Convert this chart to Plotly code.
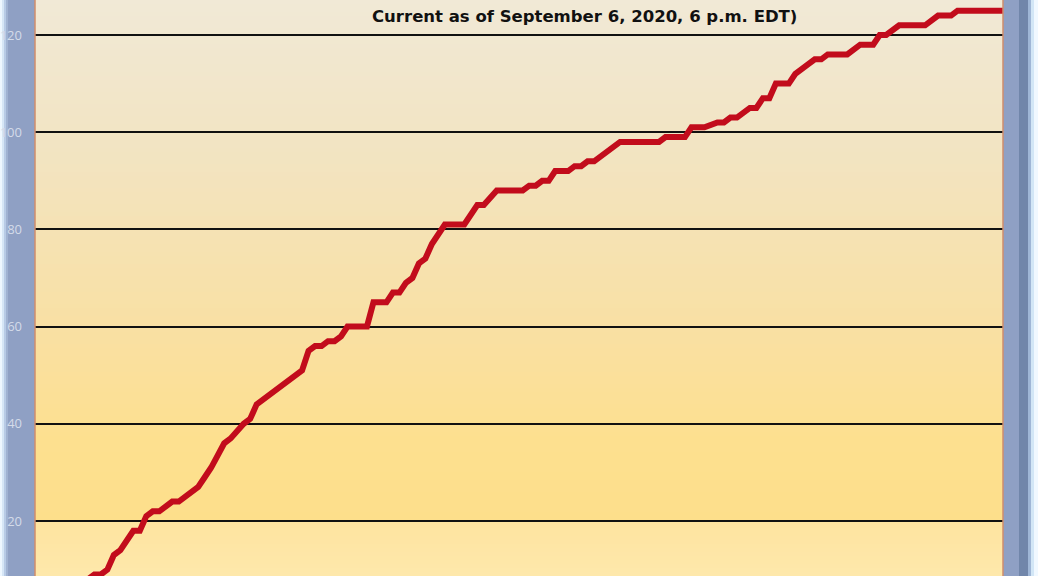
import plotly.graph_objects as go

# ---- data ----
days = [0, 1, 2, 3, 4, 5, 7, 8, 9, 10, 11, 13, 14, 17, 18, 19, 21, 22, 24, 25,
        26, 27, 28, 30, 33, 34, 35, 36, 37, 38, 39, 40, 43, 44, 46, 47, 48, 49, 50, 51,
        52, 53, 55, 58, 59, 60, 61, 63, 67, 68, 69, 70, 71, 72, 74, 75, 76, 77, 78, 82,
        88, 89, 92, 93, 95, 97, 98, 99, 100, 102, 103, 104, 105, 106, 108, 109, 111, 112, 113, 114,
        117, 119, 121, 122, 123, 125, 129, 131, 133, 134, 141]
counts = [8, 9, 9, 10, 13, 14, 18, 18, 21, 22, 22, 24, 24, 27, 29, 31, 36, 37, 40, 41,
          44, 45, 46, 48, 51, 55, 56, 56, 57, 57, 58, 60, 60, 65, 65, 67, 67, 69, 70, 73,
          74, 77, 81, 81, 83, 85, 85, 88, 88, 89, 89, 90, 90, 92, 92, 93, 93, 94, 94, 98,
          98, 99, 99, 101, 101, 102, 102, 103, 103, 105, 105, 107, 107, 110, 110, 112, 114, 115, 115, 116,
          116, 118, 118, 120, 120, 122, 122, 124, 124, 125, 125]
y_ticks = [20, 40, 60, 80, 100, 120]
y_tick_labels = ["20", "40", "60", "80", "100", "120"]
subtitle = "Current as of September 6, 2020, 6 p.m. EDT)"

W, H = 1038, 576
L, R = 35, 1003  # plot area pixel edges


def px2paper_x(p):
    return (p - L) / (R - L)


def px2paper_y(p):
    return 1 - p / H


fig = go.Figure()
fig.add_trace(go.Scatter(
    x=days, y=counts, mode="lines",
    line=dict(color="#c20c1c", width=6),
    hoverinfo="skip", showlegend=False,
))

shapes = []


def hex2rgb(h):
    h = h.lstrip("#")
    return tuple(int(h[i:i + 2], 16) for i in (0, 2, 4))


def mix(c1, c2, t):
    a, b = hex2rgb(c1), hex2rgb(c2)
    return "rgb(%d,%d,%d)" % tuple(round(a[i] + (b[i] - a[i]) * t) for i in range(3))


# background gradient stops (pixel y, colour)
stops = [(0, "#f1e9d6"), (150, "#f2e4c2"), (330, "#f9e0a3"), (440, "#fde08f"),
         (521, "#fddf8b"), (522, "#fee4a0"), (576, "#fee8ab")]
step = 4
for y0 in range(0, H, step):
    y1 = min(y0 + step, H)
    ym = (y0 + y1) / 2
    for (a, ca), (b, cb) in zip(stops[:-1], stops[1:]):
        if a <= ym <= b:
            t = (ym - a) / (b - a) if b > a else 0
            col = mix(ca, cb, t)
            break
    shapes.append(dict(type="rect", xref="paper", yref="paper", layer="below",
                       x0=0, x1=1, y0=px2paper_y(y1 + 0.5), y1=px2paper_y(y0),
                       fillcolor=col, line=dict(width=0)))

# frame decoration (outer window edges)
edge_rects = [
    (0, 2, "#eef7ff"), (2, 4, "#d6e6f6"), (4, 6, "#b8cbe6"), (6, 8, "#a0b2d2"),
    (1019, 1028, "#7186aa"), (1028, 1031, "#9fb6d6"), (1031, 1034, "#d2e6f6"), (1034, 1038, "#f0f8ff"),
]
for x0, x1, c in edge_rects:
    shapes.append(dict(type="rect", xref="paper", yref="paper", layer="below",
                       x0=px2paper_x(x0), x1=px2paper_x(x1), y0=-0.01, y1=1.01,
                       fillcolor=c, line=dict(width=0)))
# plot-area border (thin orange-brown)
shapes.append(dict(type="rect", xref="paper", yref="paper", layer="above",
                   x0=0, x1=1, y0=-0.01, y1=1.01, fillcolor="rgba(0,0,0,0)",
                   line=dict(color="#cf8d6c", width=1.5)))

fig.update_layout(
    width=W, height=H, autosize=False,
    margin=dict(l=L, r=W - R, t=0, b=0, pad=0),
    paper_bgcolor="#8fa0c4",
    plot_bgcolor="#fbe3a6",
    shapes=shapes,
    showlegend=False,
    xaxis=dict(range=[-8.15, 141.0], showgrid=False, zeroline=False,
               showticklabels=False, ticks="", showline=False),
    yaxis=dict(range=[20 - 55 / 4.86, 120 + 35 / 4.86], tickvals=y_ticks, ticktext=y_tick_labels,
               showgrid=True, gridcolor="#111111", gridwidth=1.5, zeroline=False,
               ticks="", ticklabelstandoff=12, showline=False,
               tickfont=dict(family="Open Sans", size=13, color="rgb(212,219,233)")),
    annotations=[dict(text="<b>" + subtitle + "</b>", xref="paper", yref="paper",
                      x=px2paper_x(584), y=px2paper_y(17), xanchor="center", yanchor="middle",
                      showarrow=False,
                      font=dict(family="DejaVu Sans", size=16.5, color="#111111"))],
)

fig.write_html("out.html", config={"displayModeBar": False},
               post_script="document.body.style.margin='0';document.body.style.overflow='hidden';")
